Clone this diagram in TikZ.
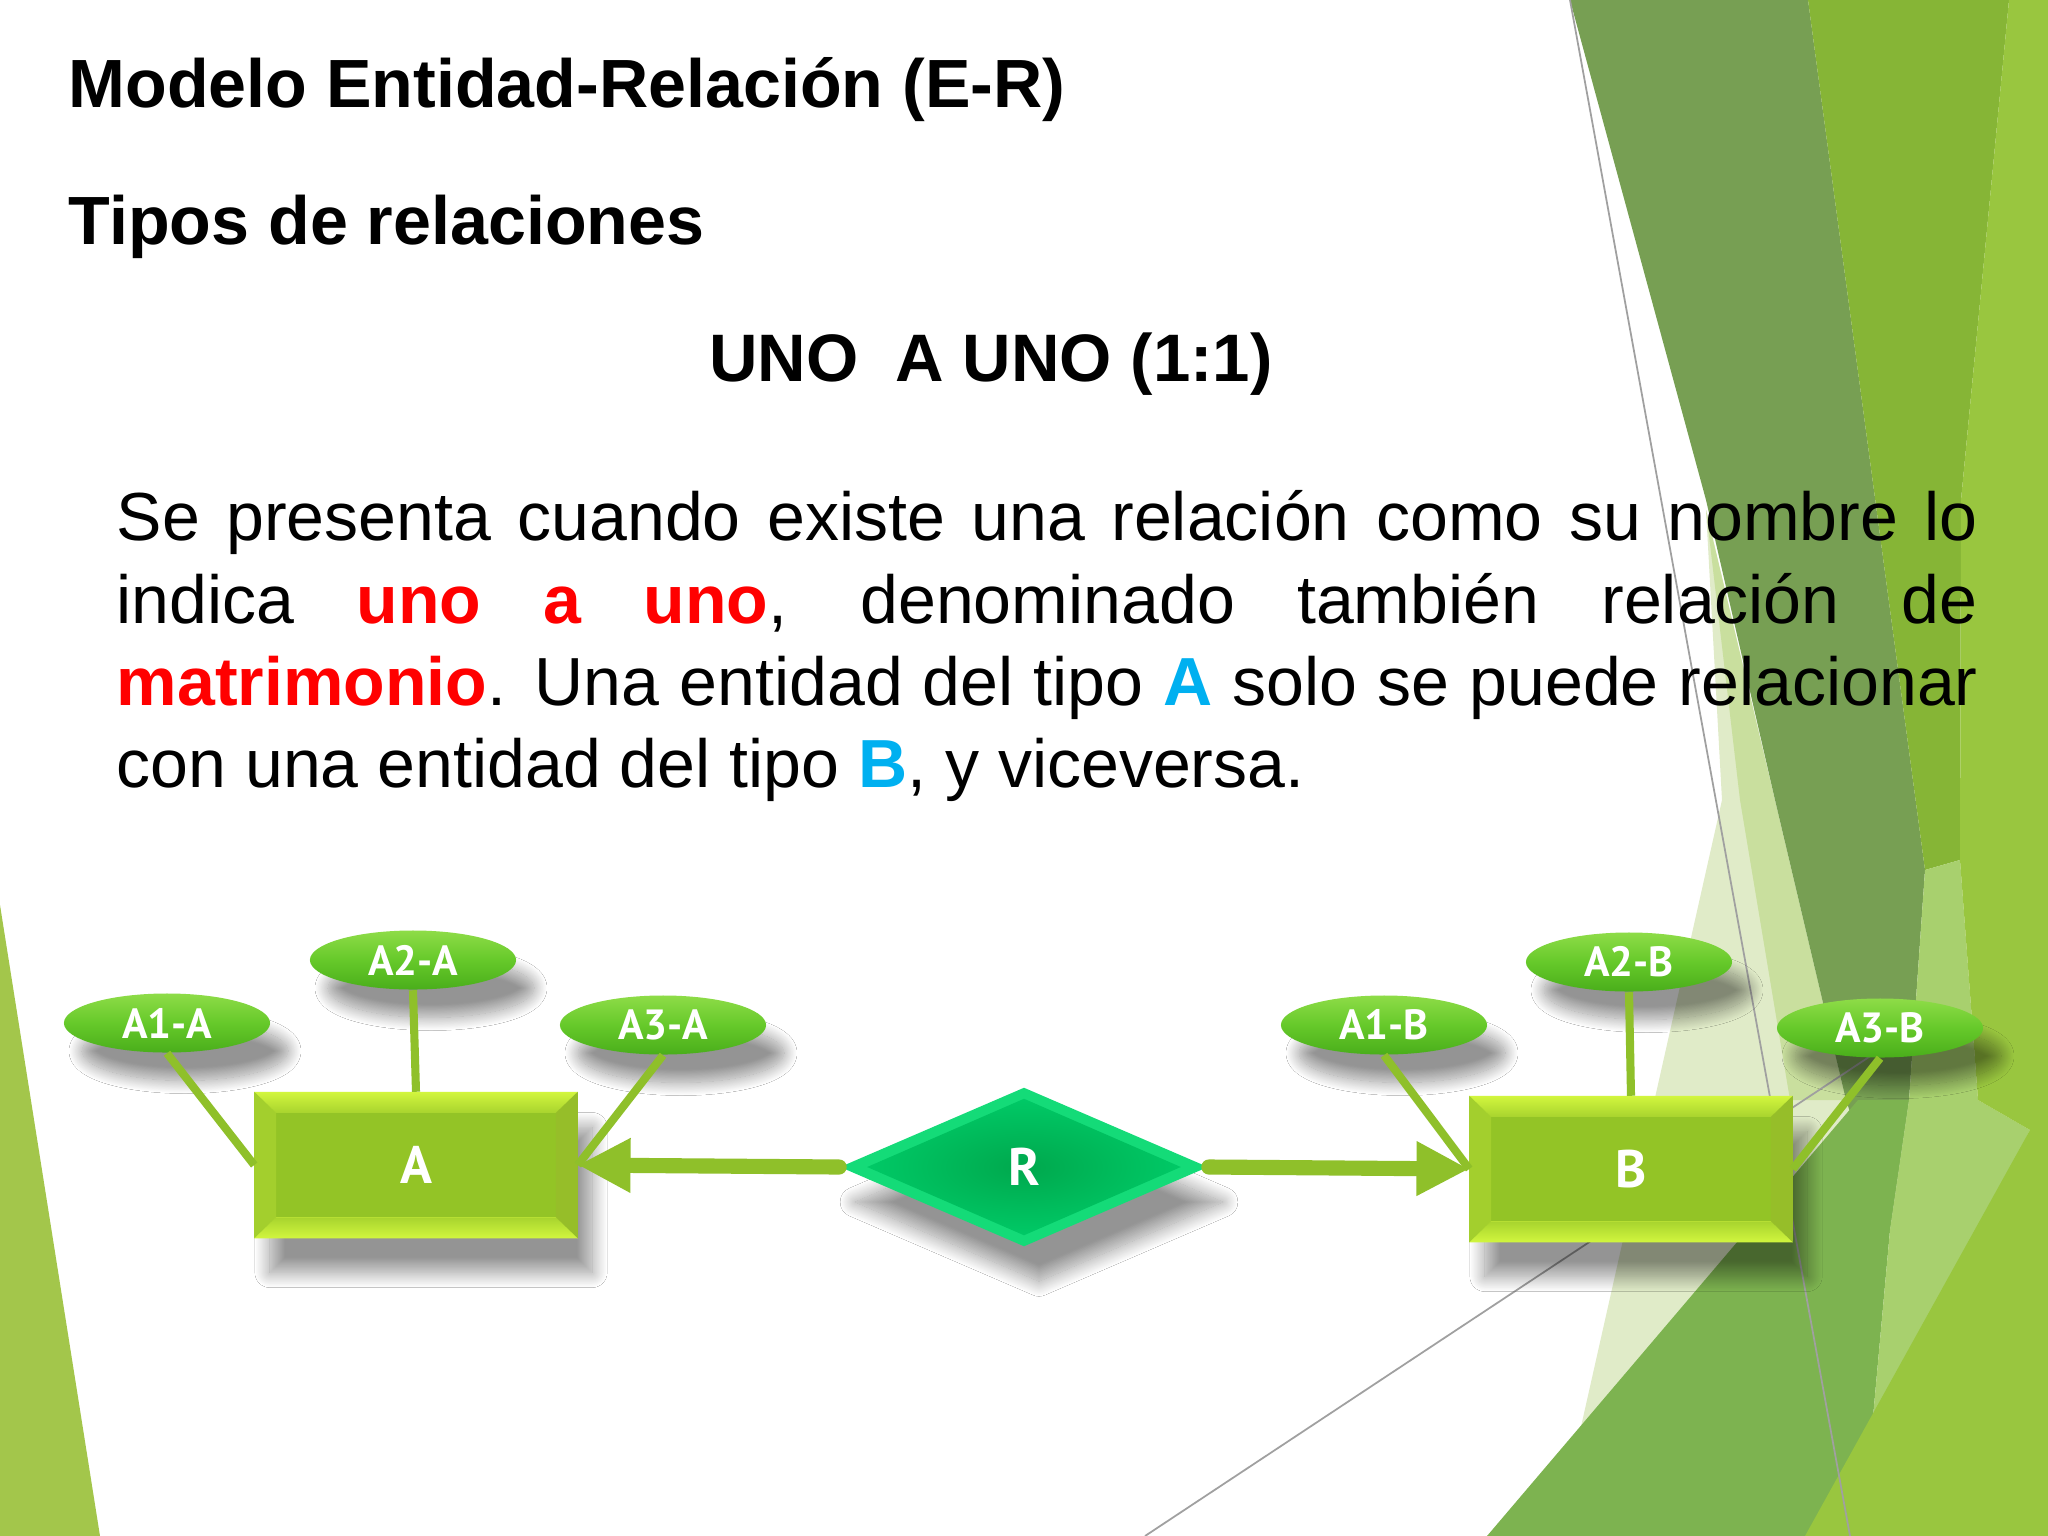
\documentclass[tikz,border=0pt]{standalone}
\usepackage{fontspec}
\setmainfont{Liberation Sans}
\newfontfamily\lblfont{PT Sans}
\usetikzlibrary{shapes.geometric,arrows.meta,calc,shadows.blur}
\definecolor{bgpale}{HTML}{E0EBC8}
\definecolor{bgpale2}{HTML}{C9DF9E}
\definecolor{bgdark}{HTML}{779F53}
\definecolor{bgmed}{HTML}{86B536}
\definecolor{bgstrip}{HTML}{A8D06E}
\definecolor{bgtri}{HTML}{7DB350}
\definecolor{bglime}{HTML}{99C63F}
\definecolor{bgleft}{HTML}{A3C64B}
\definecolor{grayline}{HTML}{A0A0A0}
\definecolor{redtxt}{HTML}{FF0000}
\definecolor{bluetxt}{HTML}{00B0F0}
\definecolor{ellhi}{HTML}{8EDC48}
\definecolor{ellmid}{HTML}{66C92A}
\definecolor{elllo}{HTML}{4AAE1B}
\definecolor{face}{HTML}{93C426}
\definecolor{bevhi}{HTML}{D2F63E}
\definecolor{bevmid}{HTML}{A8D42E}
\definecolor{bevside}{HTML}{A3CF2D}
\definecolor{relout}{HTML}{14DB78}
\definecolor{relin}{HTML}{00A84D}
\definecolor{relmid}{HTML}{00C966}
\definecolor{conngreen}{HTML}{8FC02A}
\tikzset{
  attr/.style={ellipse, minimum width=2.06cm, minimum height=0.59cm, inner sep=0pt,
    top color=ellhi, bottom color=elllo, middle color=ellmid, text=white,
    font=\lblfont\bfseries\fontsize{12pt}{13pt}\selectfont,
    blur shadow={shadow xshift=1.8mm, shadow yshift=-2.8mm, shadow blur radius=1.3mm, shadow opacity=42, shadow blur steps=24}},
  entbox/.style={rectangle, minimum width=3.22cm, minimum height=1.45cm, inner sep=0pt,
    fill=bevhi, blur shadow={shadow xshift=1.5mm, shadow yshift=-3.5mm, shadow blur radius=1.5mm, shadow opacity=42, shadow blur steps=24}},
  rel/.style={diamond, minimum width=3.68cm, minimum height=1.59cm, inner sep=0pt, fill=relout,
    blur shadow={shadow xshift=1.5mm, shadow yshift=-3.5mm, shadow blur radius=1.5mm, shadow opacity=42, shadow blur steps=24}},
  biglbl/.style={text=white, inner sep=0pt, font=\lblfont\bfseries\fontsize{15pt}{17pt}\selectfont},
  attrline/.style={line width=2.3pt, draw=conngreen},
  relarrow/.style={line width=4.3pt, draw=conngreen, line cap=round,
    -{Triangle[length=15pt,width=14.5pt]}},
  heading/.style={inner sep=0pt, anchor=base west, font=\bfseries\fontsize{19.4pt}{23pt}\selectfont},
  paraline/.style={inner sep=0pt, anchor=base west, font=\fontsize{19.35pt}{23.3pt}\selectfont},
}
\newcommand\drawbevel[1]{%
  \fill[face] ($(#1.north west)+(22,21)$) rectangle ($(#1.south east)+(-22,-21)$);
  \shade[top color=bevhi, bottom color=bevmid] (#1.north west) -- (#1.north east) -- ($(#1.north east)+(-22,21)$) -- ($(#1.north west)+(22,21)$) -- cycle;
  \shade[top color=bevmid, bottom color=bevhi] (#1.south west) -- (#1.south east) -- ($(#1.south east)+(-22,-21)$) -- ($(#1.south west)+(22,-21)$) -- cycle;
  \fill[bevside] (#1.north west) -- ($(#1.north west)+(22,21)$) -- ($(#1.south west)+(22,-21)$) -- (#1.south west) -- cycle;
  \fill[bevside!92!black] (#1.north east) -- ($(#1.north east)+(-22,21)$) -- ($(#1.south east)+(-22,-21)$) -- (#1.south east) -- cycle;
}
\begin{document}
\begin{tikzpicture}[x=0.01cm, y=-0.01cm]
\useasboundingbox (0,0) rectangle (2048,1536);
\fill[white] (0,0) rectangle (2048,1536);
% background facets
\fill[bgleft] (0,905) -- (100,1536) -- (0,1536) -- cycle;
\fill[bgpale] (1706,510) -- (1846,1100) -- (1858,1100) -- (1578,1440) -- (1722,800) -- cycle;
\fill[bgpale2] (1706,510) -- (1846,1100) -- (1790,1100) -- (1740,800) -- cycle;
\fill[bgdark] (1570,0) -- (1808,0) -- (1925,870) -- (1909,1100) -- (1890,1230) -- (1846,1100) -- (1775,800) -- (1706,500) -- cycle;
\fill[bgmed] (1808,0) -- (2009,0) -- (1961,500) -- (1960,860) -- (1925,870) -- cycle;
\fill[bgtri] (1487,1536) -- (1858,1100) -- (1909,1100) -- (1890,1230) -- (1870,1450) -- (1832,1536) -- cycle;
\fill[bgstrip] (1925,870) -- (1960,860) -- (1978,1100) -- (2030,1130) -- (1870,1450) -- (1890,1230) -- (1909,1100) -- cycle;
\fill[bglime] (2009,0) -- (2048,0) -- (2048,1536) -- (1805,1536) -- (2030,1130) -- (1978,1100) -- (1960,860) -- (1961,500) -- cycle;
\draw[grayline, line width=0.5pt] (1570,0) -- (1850,1536);
\draw[grayline, line width=0.5pt] (1145,1536) -- (1940,1010);
% texts
\node[heading] (title) at (68,107) {Modelo Entidad-Relación (E-R)};
\node[heading] (sub) at (68,244) {Tipos de relaciones};
\node[heading, anchor=base, font=\bfseries\fontsize{19.1pt}{23pt}\selectfont] (kind) at (991,381) {UNO\ \ A UNO (1:1)};
\node[paraline] (p1) at (116,540) {\makebox[18.6cm][s]{Se presenta cuando existe una relación como su nombre lo}};
\node[paraline] (p2) at (116,623) {\makebox[18.6cm][s]{indica \textcolor{redtxt}{\bfseries uno a uno}, denominado también relación de}};
\node[paraline] (p3) at (116,705) {\makebox[18.6cm][s]{\textcolor{redtxt}{\bfseries matrimonio}. Una entidad del tipo \textcolor{bluetxt}{\bfseries A} solo se puede relacionar}};
\node[paraline] (p4) at (116,787) {con una entidad del tipo \textcolor{bluetxt}{\bfseries B}, y viceversa.};
% entities
\node[entbox] (A) at (416,1165) {};
\drawbevel{A}
\node[biglbl] (Alab) at (A.center) {A};
\node[entbox] (B) at (1631,1169) {};
\drawbevel{B}
\node[biglbl] (Blab) at (B.center) {B};
% relation
\node[rel] (R) at (1024,1167) {};
\shade[inner color=relin, outer color=relmid] ($(R.west)+(28,0)$) -- ($(R.north)+(0,12)$) -- ($(R.east)+(-28,0)$) -- ($(R.south)+(0,-12)$) -- cycle;
\node[biglbl] (Rlab) at (R.center) {R};
% attributes
\node[attr] (a1a) at (167,1023) {A1-A};
\node[attr] (a2a) at (413,960) {A2-A};
\node[attr] (a3a) at (663,1025) {A3-A};
\node[attr] (a1b) at (1384,1025) {A1-B};
\node[attr] (a2b) at (1629,962) {A2-B};
\node[attr] (a3b) at (1880,1028) {A3-B};
% connectors
\draw[attrline] (a1a.south) -- (A.west);
\draw[attrline] (a2a.south) -- (A.north);
\draw[attrline] (a3a.south) -- (A.east);
\draw[attrline] (a1b.south) -- (B.west);
\draw[attrline] (a2b.south) -- (B.north);
\draw[attrline] (a3b.south) -- (B.east);
\draw[relarrow] (R.west) -- (A.east);
\draw[relarrow] (R.east) -- (B.west);
\end{tikzpicture}
\end{document}
